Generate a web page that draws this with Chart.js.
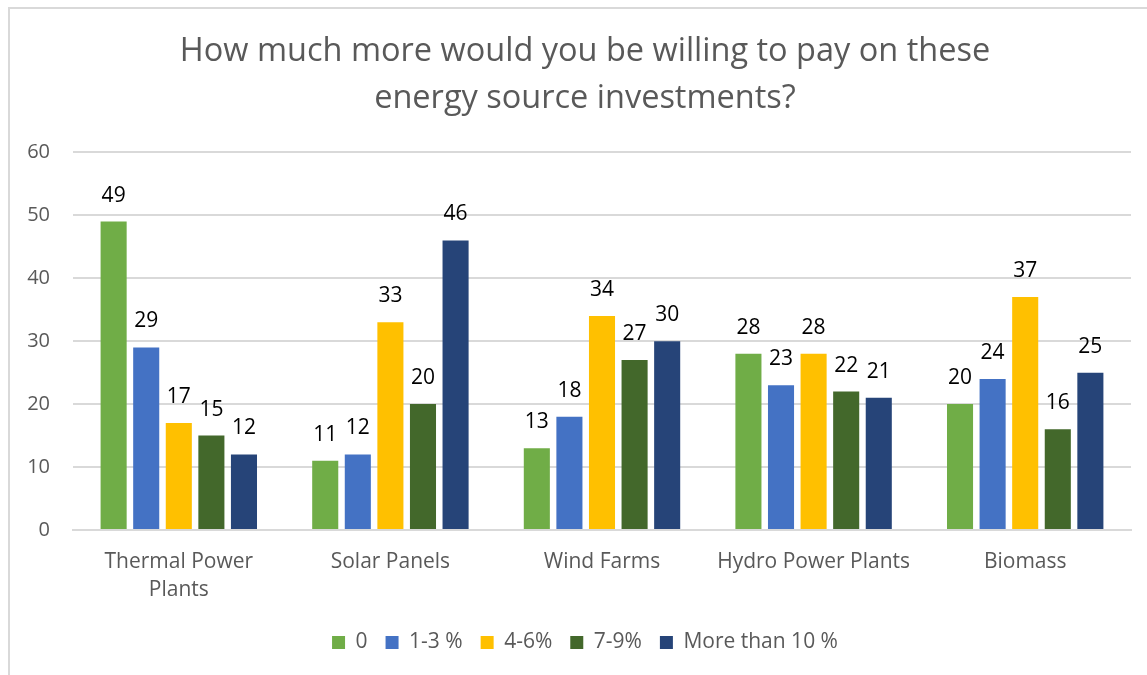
<!DOCTYPE html>
<html>
<head>
<meta charset="utf-8">
<script src="https://cdn.jsdelivr.net/npm/chart.js@4"></script>
<style>
  html, body { margin: 0; padding: 0; background: #fff; }
  #wrap { position: relative; width: 1147px; height: 675px; overflow: hidden; }
  #frame { position: absolute; left: 8px; top: 7px; width: 1200px; height: 700px; border: 2px solid #D9D9D9; box-sizing: border-box; }
  #chart { position: absolute; left: 0; top: 0; }
</style>
</head>
<body>
<div id="wrap">
  <div id="frame"></div>
  <canvas id="chart" width="1147" height="675"></canvas>
</div>
<script>
const categories = [['Thermal Power', 'Plants'], 'Solar Panels', 'Wind Farms', 'Hydro Power Plants', 'Biomass'];
const seriesNames = ['0', '1-3 %', '4-6%', '7-9%', 'More than 10 %'];
const zeroPct = [49, 11, 13, 28, 20];
const oneToThree = [29, 12, 18, 23, 24];
const fourToSix = [17, 33, 34, 28, 37];
const sevenToNine = [15, 20, 27, 22, 16];
const moreThanTen = [12, 46, 30, 21, 25];
const colors = ['#70AD47', '#4472C4', '#FFC000', '#43682B', '#264478'];

const FONT = "'Open Sans', sans-serif";

// value labels above each bar, plus the y tick text (the y axis box is kept
// narrow so the title and legend centre like the original layout)
const barValues = {
    id: 'barValues',
    afterDatasetsDraw(chart) {
        const ctx = chart.ctx;
        ctx.save();
        ctx.font = '21px ' + FONT;
        ctx.fillStyle = '#000';
        ctx.textAlign = 'center';
        ctx.textBaseline = 'alphabetic';
        chart.data.datasets.forEach((ds, i) => {
            chart.getDatasetMeta(i).data.forEach((bar, j) => {
                ctx.fillText(ds.data[j], bar.x, bar.y - 20);
            });
        });

        const y = chart.scales.y;
        ctx.font = '20px ' + FONT;
        ctx.fillStyle = '#595959';
        ctx.textAlign = 'right';
        ctx.textBaseline = 'middle';
        y.ticks.forEach(t => {
            ctx.fillText(t.value, y.right - 23, y.getPixelForValue(t.value));
        });
        ctx.restore();
    }
};

const allSeries = [zeroPct, oneToThree, fourToSix, sevenToNine, moreThanTen];

new Chart(document.getElementById('chart'), {
    type: 'bar',
    data: {
        labels: categories,
        datasets: allSeries.map((vals, i) => ({
            label: seriesNames[i],
            data: vals,
            backgroundColor: colors[i],
            categoryPercentage: 0.77,
            barPercentage: 0.8
        }))
    },
    options: {
        responsive: false,
        animation: false,
        layout: { padding: { left: 39, right: 16, top: 10, bottom: 12 } },
        plugins: {
            title: {
                display: true,
                text: ['How much more would you be willing to pay on these', 'energy source investments?'],
                color: '#595959',
                font: { family: FONT, size: 32.5, weight: 'normal', lineHeight: 1.45 },
                padding: { top: 18, bottom: 30 }
            },
            legend: {
                position: 'bottom',
                labels: {
                    color: '#595959',
                    font: { family: FONT, size: 21 },
                    boxWidth: 13,
                    boxHeight: 13,
                    padding: 18
                }
            },
            tooltip: { enabled: false }
        },
        scales: {
            x: {
                grid: { display: false },
                border: { color: '#D9D9D9', width: 2 },
                ticks: {
                    color: '#595959',
                    font: { family: FONT, size: 21, lineHeight: 1.38 },
                    padding: 9,
                    maxRotation: 0
                }
            },
            y: {
                min: 0,
                max: 60,
                afterFit(scale) { scale.width = 34; },
                ticks: { stepSize: 10, display: false },
                grid: { color: '#D9D9D9', lineWidth: 2, drawTicks: false },
                border: { display: false }
            }
        }
    },
    plugins: [barValues]
});
</script>
</body>
</html>
